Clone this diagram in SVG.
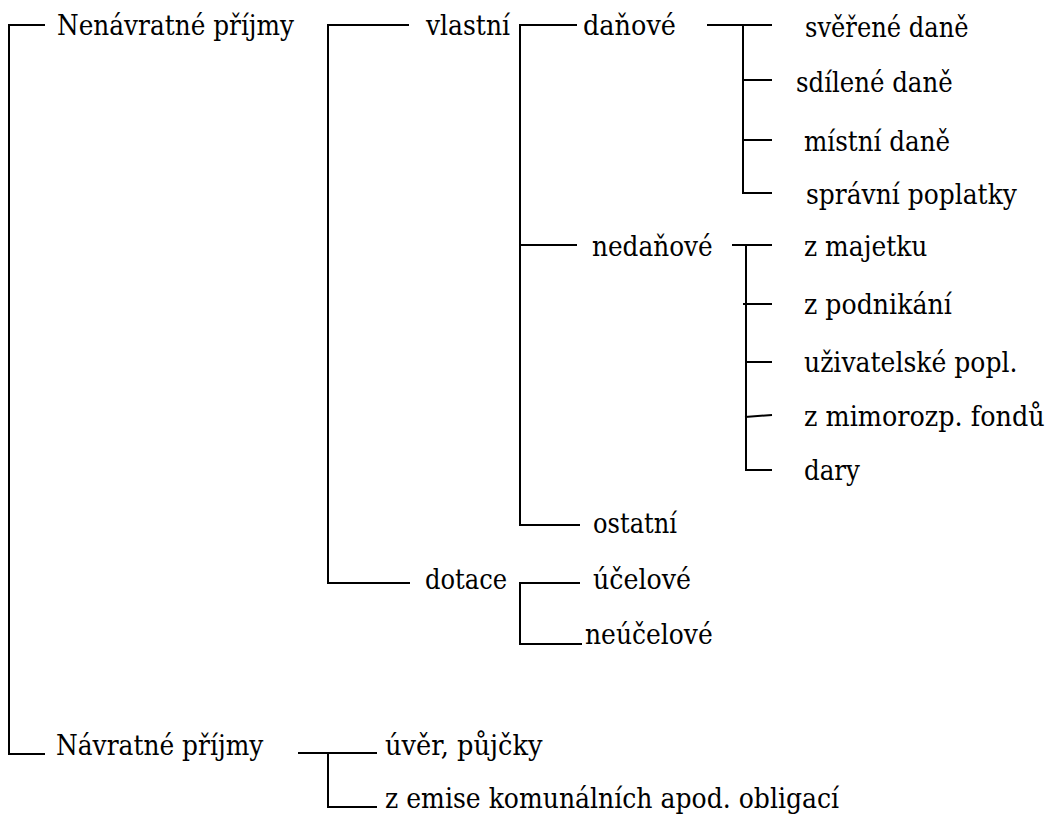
<svg xmlns="http://www.w3.org/2000/svg" width="1051" height="814" viewBox="0 0 1051 814">
  <style>
    text { font-family: "DejaVu Serif", serif; font-size: 28.5px; fill: #000; }
    .ln { stroke: #000; stroke-width: 2; fill: none; stroke-linecap: butt; stroke-linejoin: miter; }
  </style>
  <rect width="1051" height="814" fill="#fff"/>

  <!-- tree connectors -->
  <g id="connectors" class="ln">
    <!-- root: non-returnable / returnable -->
    <path d="M45,25 H9 V754 H45"/>
    <!-- vlastní / dotace -->
    <path d="M409,25 H328 V583 H410"/>
    <!-- daňové / nedaňové / ostatní -->
    <path d="M577,25 H520 V525 H580"/>
    <path d="M520,245 H577"/>
    <!-- tax items -->
    <path d="M707,25 H772"/>
    <path d="M743,25 V193 H772"/>
    <path d="M743,80 H772"/>
    <path d="M743,140 H772"/>
    <!-- non-tax items -->
    <path d="M732,245 H772"/>
    <path d="M746,245 V470 H772"/>
    <path d="M743,304 H772"/>
    <path d="M746,362 H772"/>
    <path d="M745,417 L772,415"/>
    <!-- grants -->
    <path d="M580,583 H520 V644 H582"/>
    <!-- returnable items -->
    <path d="M298,753 H377"/>
    <path d="M328,753 V807 H377"/>
  </g>

  <!-- labels; textLength keeps each label to its column width -->
  <g id="nenavratne"><text x="57" y="35" textLength="237" lengthAdjust="spacingAndGlyphs">Nenávratné příjmy</text></g>
  <g id="vlastni"><text x="426" y="35" textLength="84" lengthAdjust="spacingAndGlyphs">vlastní</text></g>
  <g id="danove"><text x="583" y="35" textLength="93" lengthAdjust="spacingAndGlyphs">daňové</text></g>
  <g id="sverene"><text x="805" y="37" textLength="163.5" lengthAdjust="spacingAndGlyphs">svěřené daně</text></g>
  <g id="sdilene"><text x="796" y="92" textLength="156.6" lengthAdjust="spacingAndGlyphs">sdílené daně</text></g>
  <g id="mistni"><text x="804" y="151" textLength="146.1" lengthAdjust="spacingAndGlyphs">místní daně</text></g>
  <g id="spravni"><text x="806" y="204" textLength="210.9" lengthAdjust="spacingAndGlyphs">správní poplatky</text></g>
  <g id="nedanove"><text x="592" y="256" textLength="120.7" lengthAdjust="spacingAndGlyphs">nedaňové</text></g>
  <g id="majetek"><text x="804" y="256" textLength="123.4" lengthAdjust="spacingAndGlyphs">z majetku</text></g>
  <g id="podnikani"><text x="804" y="314" textLength="147.9" lengthAdjust="spacingAndGlyphs">z podnikání</text></g>
  <g id="uzivatelske"><text x="804" y="372" textLength="213.5" lengthAdjust="spacingAndGlyphs">uživatelské popl.</text></g>
  <g id="mimorozp"><text x="804" y="426" textLength="240.6" lengthAdjust="spacingAndGlyphs">z mimorozp. fondů</text></g>
  <g id="dary"><text x="804" y="480" textLength="56" lengthAdjust="spacingAndGlyphs">dary</text></g>
  <g id="ostatni"><text x="593" y="533" textLength="84" lengthAdjust="spacingAndGlyphs">ostatní</text></g>
  <g id="dotace"><text x="425" y="589" textLength="82.2" lengthAdjust="spacingAndGlyphs">dotace</text></g>
  <g id="ucelove"><text x="593" y="589" textLength="98" lengthAdjust="spacingAndGlyphs">účelové</text></g>
  <g id="neucelove"><text x="585" y="644" textLength="127.7" lengthAdjust="spacingAndGlyphs">neúčelové</text></g>
  <g id="navratne"><text x="56" y="755" textLength="207.3" lengthAdjust="spacingAndGlyphs">Návratné příjmy</text></g>
  <g id="uver"><text x="385" y="755" textLength="157.5" lengthAdjust="spacingAndGlyphs">úvěr, půjčky</text></g>
  <g id="emise"><text x="385" y="808" textLength="454.1" lengthAdjust="spacingAndGlyphs">z emise komunálních apod. obligací</text></g>
</svg>
